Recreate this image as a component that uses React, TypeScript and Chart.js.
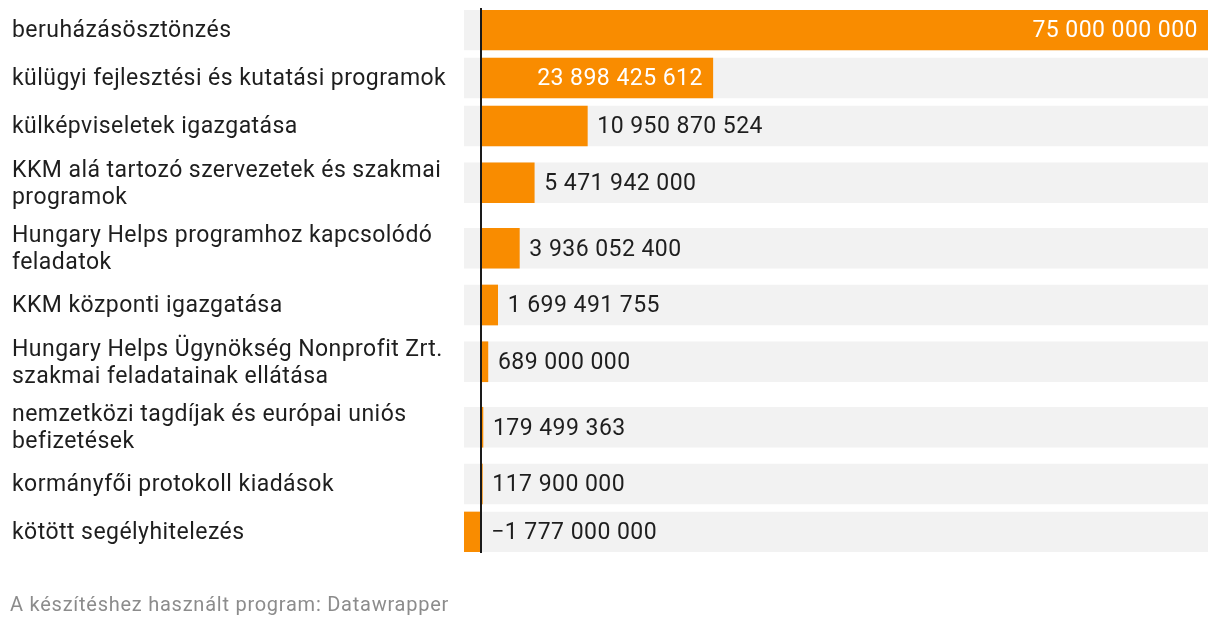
import React, { useEffect, useRef } from 'react';
import { Chart, registerables } from 'chart.js';

Chart.register(...registerables);

// ---- data ----
const categories: string[][] = [
  ['beruházásösztönzés'],
  ['külügyi fejlesztési és kutatási programok'],
  ['külképviseletek igazgatása'],
  ['KKM alá tartozó szervezetek és szakmai', 'programok'],
  ['Hungary Helps programhoz kapcsolódó', 'feladatok'],
  ['KKM központi igazgatása'],
  ['Hungary Helps Ügynökség Nonprofit Zrt.', 'szakmai feladatainak ellátása'],
  ['nemzetközi tagdíjak és európai uniós', 'befizetések'],
  ['kormányfői protokoll kiadások'],
  ['kötött segélyhitelezés'],
];
const values: number[] = [
  75000000000, 23898425612, 10950870524, 5471942000, 3936052400,
  1699491755, 689000000, 179499363, 117900000, -1777000000,
];
const footerText = 'A készítéshez használt program: Datawrapper';

// ---- layout / style ----
const W = 1220;
const H = 630;
const ROW_SINGLE = 40;
const ROW_DOUBLE = 57.5;
const ROW_GAP = 8;
const BAR_H = 40;
const LABEL_FONT = 23;
const VALUE_FONT = 23;
const LETTER_SP = '0.45px';
const LINE_H = 27;
const TEXT_DY = 1.5;
const ORANGE = '#f98c00';
const BG_GREY = '#f2f2f2';
const TEXT = '#1e1e1e';

const rowHeights = categories.map((c) => (c.length > 1 ? ROW_DOUBLE : ROW_SINGLE));
const rowCenters: number[] = [];
let acc = 0;
rowHeights.forEach((h) => {
  rowCenters.push(acc + h / 2);
  acc += h + ROW_GAP;
});
const totalRows = acc - ROW_GAP;
const xMin = Math.min(0, ...values);
const xMax = Math.max(0, ...values);

const fmt = (v: number) =>
  (v < 0 ? '\u2212' : '') + Math.abs(v).toString().replace(/\B(?=(\d{3})+(?!\d))/g, ' ');

const textPlugin = {
  id: 'dwText',
  afterDatasetsDraw(chart: any) {
    const { ctx, chartArea, scales } = chart;
    const xs = scales.x;
    const ys = scales.y;
    const x0 = xs.getPixelForValue(0);
    ctx.save();
    // zero line
    ctx.fillStyle = '#1a1a1a';
    ctx.fillRect(Math.round(x0) - 1, chartArea.top - 2, 2, chartArea.bottom - chartArea.top + 3);

    // category labels
    ctx.font = `${LABEL_FONT}px Roboto`;
    (ctx as any).letterSpacing = LETTER_SP;
    ctx.textBaseline = 'middle';
    ctx.textAlign = 'left';
    ctx.fillStyle = TEXT;
    categories.forEach((lines, i) => {
      const cy = ys.getPixelForValue(rowCenters[i]) + TEXT_DY;
      lines.forEach((ln, j) => {
        ctx.fillText(ln, 12, cy + (j - (lines.length - 1) / 2) * LINE_H);
      });
    });

    // value labels
    ctx.font = `${VALUE_FONT}px Roboto`;
    values.forEach((v, i) => {
      const cy = ys.getPixelForValue(rowCenters[i]) + TEXT_DY;
      const end = xs.getPixelForValue(v);
      const t = fmt(v);
      const w = ctx.measureText(t).width;
      const pad = 10;
      if (v > 0 && end - x0 > w + 2 * pad) {
        ctx.fillStyle = '#ffffff';
        ctx.textAlign = 'right';
        ctx.fillText(t, end - pad, cy);
      } else {
        ctx.fillStyle = TEXT;
        ctx.textAlign = 'left';
        ctx.fillText(t, Math.max(end, x0) + pad, cy);
      }
    });

    // footer
    ctx.font = '20px Roboto';
    (ctx as any).letterSpacing = '0.75px';
    ctx.fillStyle = '#8c8c8c';
    ctx.textAlign = 'left';
    ctx.fillText(footerText, 10, 606);
    ctx.restore();
  },
};

export default function App() {
  const ref = useRef<HTMLCanvasElement | null>(null);
  useEffect(() => {
    if (!ref.current) return;
    const chart = new Chart(ref.current, {
      type: 'bar',
      data: {
        datasets: [
          {
            label: 'main',
            data: values.map((v, i) => ({ x: v, y: rowCenters[i] })) as any,
            backgroundColor: ORANGE,
            barThickness: BAR_H,
            grouped: false,
            order: 1,
          } as any,
          {
            label: 'bg',
            data: values.map((_, i) => ({ x: [xMin, xMax], y: rowCenters[i] })) as any,
            backgroundColor: BG_GREY,
            barThickness: BAR_H,
            grouped: false,
            order: 2,
          } as any,
        ],
      },
      options: {
        indexAxis: 'y',
        responsive: false,
        animation: false,
        layout: { padding: { left: 464, right: 12, top: 10, bottom: H - 10 - totalRows } },
        scales: {
          x: { type: 'linear', min: xMin, max: xMax, display: false, offset: false },
          y: { type: 'linear', min: 0, max: totalRows, reverse: true, display: false, offset: false },
        },
        plugins: { legend: { display: false }, tooltip: { enabled: false } },
      },
      plugins: [textPlugin],
    });
    return () => chart.destroy();
  }, []);
  return (
    <div style={{ position: 'absolute', left: 0, top: 0, width: W, height: H, background: '#fff' }}>
      <canvas ref={ref} width={W} height={H} style={{ display: 'block' }} />
    </div>
  );
}
